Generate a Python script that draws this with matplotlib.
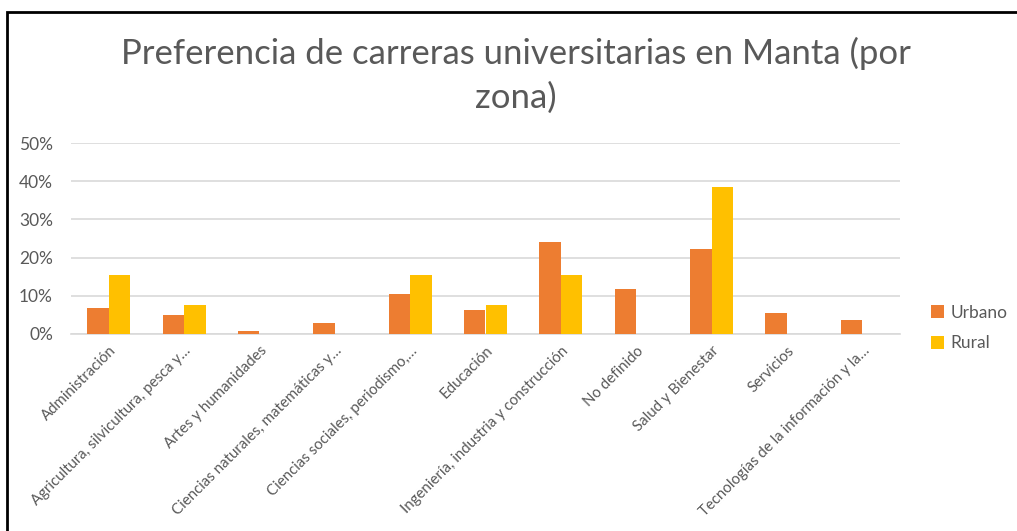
import matplotlib.pyplot as plt
import numpy as np
from matplotlib.patches import Rectangle

# data (shares per zone)
categorias = ['Administración', 'Agricultura, silvicultura, pesca y…', 'Artes y humanidades',
              'Ciencias naturales, matemáticas y…', 'Ciencias sociales, periodismo,…',
              'Educación', 'Ingeniería, industria y construcción', 'No definido',
              'Salud y Bienestar', 'Servicios', 'Tecnologías de la información y la…']
urbano = [0.068, 0.050, 0.009, 0.028, 0.104, 0.063, 0.241, 0.117, 0.222, 0.055, 0.037]
rural = [0.154, 0.077, 0.0, 0.0, 0.154, 0.077, 0.154, 0.0, 0.385, 0.0, 0.0]
y_ticks = [0, 0.1, 0.2, 0.3, 0.4, 0.5]

plt.rcParams['font.family'] = ['Lato', 'DejaVu Sans']
gris = '#595959'

W, H = 1017, 531
fig = plt.figure(figsize=(W / 100, H / 100), dpi=100)
ax = fig.add_axes([71 / W, 1 - 334 / H, 829 / W, 191 / H])

x = np.arange(len(categorias))
bw = 1 / 3.5
ax.bar(x - bw / 2, urbano, bw, color='#ED7D31', label='Urbano', zorder=3)
ax.bar(x + bw / 2, rural, bw, color='#FFC000', label='Rural', zorder=3)

ax.set_xlim(-0.5, len(categorias) - 0.5)
ax.set_ylim(0, 0.5)
ax.set_yticks(y_ticks)
ax.set_yticklabels([f'{int(round(v * 100))}%' for v in y_ticks], color=gris, fontsize=12.5)
ax.yaxis.grid(True, color='#D9D9D9', linewidth=1.2, zorder=0)
ax.tick_params(axis='y', length=0, pad=13)
ax.tick_params(axis='x', length=0, pad=7)
ax.set_xticks(x)
ax.set_xticklabels(categorias, rotation=45, ha='right', rotation_mode='anchor',
                   color=gris, fontsize=10.8)
for s in ['top', 'right', 'left']:
    ax.spines[s].set_visible(False)
ax.spines['bottom'].set_color('#D9D9D9')
ax.spines['bottom'].set_linewidth(1.2)

fig.text(516 / W, 1 - 37 / H, 'Preferencia de carreras universitarias en Manta (por\nzona)',
         ha='center', va='top', fontsize=25, color=gris, linespacing=1.45)

ax.legend(loc='center left', bbox_to_anchor=(915 / W, 1 - 328 / H), bbox_transform=fig.transFigure,
          frameon=False, fontsize=12.5, labelcolor=gris, handlelength=0.75, handleheight=0.75,
          handletextpad=0.4, labelspacing=0.85)

# outer frame of the screenshot
fig.patches.append(Rectangle((7 / W, -0.1), 1.2, 1 - 12 / H + 0.1, transform=fig.transFigure,
                             fill=False, edgecolor='black', linewidth=2))

fig.savefig('out.png', dpi=100)
